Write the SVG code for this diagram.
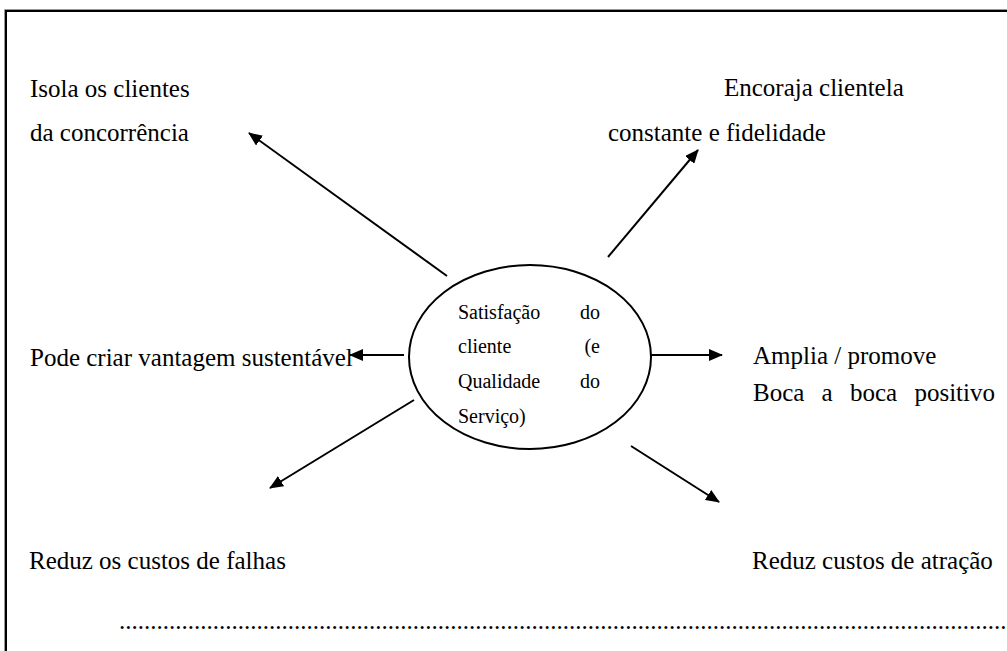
<svg xmlns="http://www.w3.org/2000/svg" width="1007" height="651" viewBox="0 0 1007 651">
<style>
.lbl{font-size:25px;fill:#000}
.in{font-size:20px;fill:#000}
.con{stroke:#000;stroke-width:2;fill:none}
</style>
<defs>
<marker id="ah" markerWidth="14" markerHeight="12" refX="13" refY="6" orient="auto" markerUnits="userSpaceOnUse">
<path d="M0,0 L14,6 L0,12 Z" fill="#000"/>
</marker>
</defs>
<rect x="0" y="0" width="1007" height="651" fill="#fff"/>
<g id="frame">
<path d="M4.5,660 V9.5 H1010" fill="none" stroke="#999" stroke-width="1"/>
<path d="M6,660 V11 H1010" fill="none" stroke="#000" stroke-width="2"/>
</g>
<g font-family="Liberation Serif, Times New Roman, serif">
<g id="center">
<ellipse cx="530" cy="357" rx="121" ry="92" fill="none" stroke="#000" stroke-width="2"/>
<text class="in" x="458" y="319">Satisfação</text>
<text class="in" x="600" y="319" text-anchor="end">do</text>
<text class="in" x="458" y="353">cliente</text>
<text class="in" x="600" y="353" text-anchor="end">(e</text>
<text class="in" x="458" y="388">Qualidade</text>
<text class="in" x="600" y="388" text-anchor="end">do</text>
<text class="in" x="458" y="423">Serviço)</text>
</g>
<g id="connectors">
<line class="con" x1="447" y1="276" x2="249" y2="133" marker-end="url(#ah)"/>
<line class="con" x1="608" y1="257" x2="698" y2="150" marker-end="url(#ah)"/>
<line class="con" x1="404" y1="355" x2="350" y2="355" marker-end="url(#ah)"/>
<line class="con" x1="651" y1="355" x2="722" y2="355" marker-end="url(#ah)"/>
<line class="con" x1="414" y1="400" x2="270" y2="488" marker-end="url(#ah)"/>
<line class="con" x1="631" y1="446" x2="719" y2="502" marker-end="url(#ah)"/>
</g>
<g id="n-isola">
<text class="lbl" x="30" y="97">Isola os clientes</text>
<text class="lbl" x="30" y="141">da concorrência</text>
</g>
<g id="n-encoraja">
<text class="lbl" x="724" y="96">Encoraja clientela</text>
<text class="lbl" x="608" y="141">constante e fidelidade</text>
</g>
<g id="n-pode">
<text class="lbl" x="30" y="366">Pode criar vantagem sustentável</text>
</g>
<g id="n-amplia">
<text class="lbl" x="753" y="364">Amplia / promove</text>
<text class="lbl" x="753" y="401" word-spacing="11">Boca a boca positivo</text>
</g>
<g id="n-falhas">
<text class="lbl" x="29" y="569">Reduz os custos de falhas</text>
</g>
<g id="n-atracao">
<text class="lbl" x="752" y="569">Reduz custos de atração</text>
</g>
<g id="dots">
<text class="lbl" x="119" y="629">..............................................................................................................................................</text>
</g>
</g>
</svg>
